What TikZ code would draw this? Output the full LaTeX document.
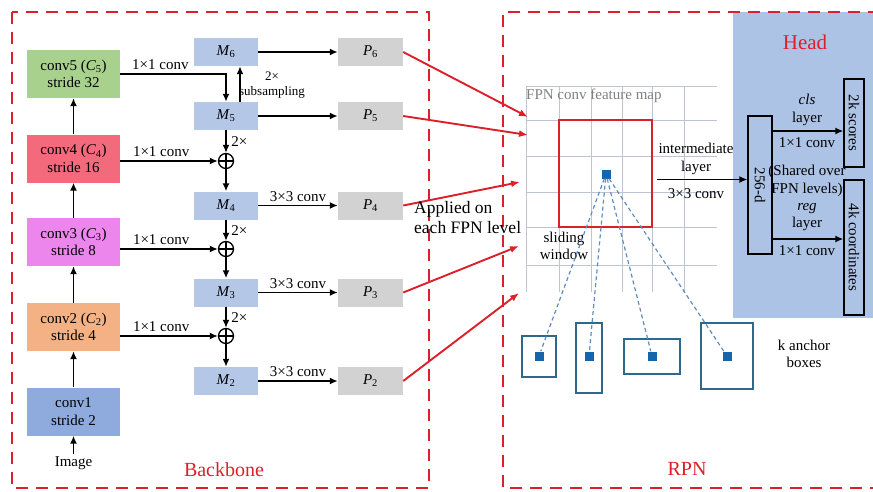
\documentclass[tikz,border=0pt]{standalone}
\usepackage{fontspec}
\setmainfont{Liberation Serif}
\usetikzlibrary{arrows.meta,positioning,calc}
\definecolor{ConvGreen}{RGB}{169,209,142}
\definecolor{ConvRed}{RGB}{243,106,124}
\definecolor{ConvViolet}{RGB}{236,134,236}
\definecolor{ConvOrange}{RGB}{244,177,131}
\definecolor{ConvBlue}{RGB}{143,170,220}
\definecolor{MapBlue}{RGB}{180,199,231}
\definecolor{PyrGray}{RGB}{210,210,210}
\definecolor{HeadBlue}{RGB}{172,195,230}
\definecolor{BorderRed}{RGB}{220,32,42}
\definecolor{GridGray}{RGB}{190,197,210}
\definecolor{AnchorTeal}{RGB}{45,105,140}
\definecolor{DotBlue}{RGB}{22,100,170}
\definecolor{RayBlue}{RGB}{95,140,190}
\newcommand{\itsub}[2]{\textit{#1}\textsubscript{#2}}
\tikzset{
  convbox/.style={minimum width=93pt,minimum height=48pt,align=center,inner sep=1pt},
  mapbox/.style={fill=MapBlue,minimum width=64pt,minimum height=28pt,inner sep=0pt},
  pbox/.style={fill=PyrGray,minimum width=65pt,minimum height=28pt,inner sep=0pt},
  sumnode/.style={circle,draw,line width=1.3pt,minimum size=15pt,inner sep=0pt,
    path picture={\draw[line width=1.3pt]
      (path picture bounding box.north) -- (path picture bounding box.south)
      (path picture bounding box.west) -- (path picture bounding box.east);}},
  arrow/.style={-{Latex[length=8pt,width=7pt]},line width=1.9pt},
  redarrow/.style={-{Latex[length=9pt,width=7pt]},line width=1.9pt,BorderRed},
  region/.style={draw=BorderRed,line width=2.4pt,dash pattern=on 12pt off 8pt},
  gridline/.style={GridGray,line width=1pt},
  anchorbox/.style={draw=AnchorTeal,line width=1.2pt,inner sep=0pt},
  dot/.style={fill=DotBlue,minimum size=9pt,inner sep=0pt},
  ray/.style={RayBlue,line width=1.2pt,dash pattern=on 4pt off 3pt},
  outbox/.style={draw,line width=1.2pt,inner sep=0pt},
  heading/.style={BorderRed,font=\fontsize{20}{22}\selectfont}
}

\begin{document}
\begin{tikzpicture}[x=1pt,y=-1pt,font=\fontsize{15}{17.5}\selectfont]
  \useasboundingbox (0,0) rectangle (873,491);
  \clip (0,0) rectangle (873,491);

  % head background
  \node[fill=HeadBlue,minimum width=140pt,minimum height=306pt,inner sep=0pt,
        anchor=north west] (headbg) at (733,12) {};

  % regions
  \draw[region] (12,12) rectangle (429,488);
  \draw[region] (880,12) -- (503,12) -- (503,488) -- (880,488);
  \node[heading] (bbtitle) at (224,470) {Backbone};
  \node[heading] (rpntitle) at (687,469) {RPN};
  \node[heading,font=\fontsize{21}{23}\selectfont] (headtitle) at (805,42) {Head};

  % backbone
  \node[convbox,fill=ConvGreen]  (c5) at (73.5,74)    {conv5 (\itsub{C}{5})\\stride 32};
  \node[convbox,fill=ConvRed]    (c4) at (73.5,158.5) {conv4 (\itsub{C}{4})\\stride 16};
  \node[convbox,fill=ConvViolet] (c3) at (73.5,242)   {conv3 (\itsub{C}{3})\\stride 8};
  \node[convbox,fill=ConvOrange] (c2) at (73.5,327)   {conv2 (\itsub{C}{2})\\stride 4};
  \node[convbox,fill=ConvBlue]   (c1) at (73.5,411.5) {conv1\\stride 2};
  \node[inner sep=2pt] (img) at (73.5,463) {Image};

  \draw[arrow] (img) -- (c1);
  \draw[arrow] (c1) -- (c2);
  \draw[arrow] (c2) -- (c3);
  \draw[arrow] (c3) -- (c4);
  \draw[arrow] (c4) -- (c5);

  % top-down pathway
  \node[mapbox] (m6) at (226,52)    {\itsub{M}{6}};
  \node[mapbox] (m5) at (226,116)   {\itsub{M}{5}};
  \node[sumnode] (s1) at (226,161)  {};
  \node[mapbox] (m4) at (226,205.5) {\itsub{M}{4}};
  \node[sumnode] (s2) at (226,249)  {};
  \node[mapbox] (m3) at (226,292.5) {\itsub{M}{3}};
  \node[sumnode] (s3) at (226,336)  {};
  \node[mapbox] (m2) at (226,381)   {\itsub{M}{2}};

  \node[pbox] (p6) at (370.5,52)    {\itsub{P}{6}};
  \node[pbox] (p5) at (370.5,116)   {\itsub{P}{5}};
  \node[pbox] (p4) at (370.5,205.5) {\itsub{P}{4}};
  \node[pbox] (p3) at (370.5,292.5) {\itsub{P}{3}};
  \node[pbox] (p2) at (370.5,381)   {\itsub{P}{2}};

  \draw[arrow] (c5.east) -- (c5.east -| m5.north) node[pos=0.38,above] {1×1 conv} -- (m5.north);
  \draw[arrow] ([xshift=14pt]m5.north) -- ([xshift=14pt]m6.south);
  \node[font=\fontsize{13}{15}\selectfont,align=center] (subs) at (272,85) {2×\\subsampling};
  \draw[arrow] (m5) -- (s1) node[midway,right=1pt] {2×};
  \draw[arrow] (c4.east |- s1) -- (s1) node[pos=0.42,above] {1×1 conv};
  \draw[arrow] (s1) -- (m4);
  \draw[arrow] (m4) -- (s2) node[midway,right=1pt] {2×};
  \draw[arrow] (c3.east |- s2) -- (s2) node[pos=0.42,above] {1×1 conv};
  \draw[arrow] (s2) -- (m3);
  \draw[arrow] (m3) -- (s3) node[midway,right=1pt] {2×};
  \draw[arrow] (c2.east |- s3) -- (s3) node[pos=0.42,above] {1×1 conv};
  \draw[arrow] (s3) -- (m2);

  \draw[arrow] (m6) -- (p6);
  \draw[arrow] (m5) -- (p5);
  \draw[arrow] (m4) -- (p4) node[midway,above] {3×3 conv};
  \draw[arrow] (m3) -- (p3) node[midway,above] {3×3 conv};
  \draw[arrow] (m2) -- (p2) node[midway,above] {3×3 conv};

  % feature map grid
  \foreach \gy in {86,120,156,192,227,265}
    \draw[gridline] (526,\gy) -- (717,\gy);
  \foreach \gx in {526,559,591,622,652,684}
    \draw[gridline] (\gx,86) -- (\gx,292);
  \node[gray,anchor=west,inner sep=0pt] (fmlabel) at (526,96) {FPN conv feature map};

  % levels into RPN
  \coordinate (f6) at (528,117);
  \coordinate (f5) at (528,135);
  \coordinate (f4) at (520,182);
  \coordinate (f3) at (519,246);
  \coordinate (f2) at (519,293);
  \draw[redarrow] (p6.east) -- (f6);
  \draw[redarrow] (p5.east) -- (f5);
  \draw[redarrow] (p4.east) -- (f4);
  \draw[redarrow] (p3.east) -- (f3);
  \draw[redarrow] (p2.east) -- (f2);
  \node[font=\fontsize{17.5}{20}\selectfont,align=left,anchor=west,inner sep=0pt]
    (applied) at (414,218) {Applied on\\each FPN level};

  % sliding window and anchors
  \node[draw=BorderRed,line width=2.4pt,minimum width=93pt,minimum height=107pt,
        inner sep=0pt] (win) at (605.5,173.5) {};
  \node[align=center] (slide) at (564,246) {sliding\\window};

  \node[anchorbox,minimum width=34pt,minimum height=41pt] (a1) at (539,356.5) {};
  \node[anchorbox,minimum width=26pt,minimum height=70pt] (a2) at (589,358) {};
  \node[anchorbox,minimum width=56pt,minimum height=35pt] (a3) at (652,356.5) {};
  \node[anchorbox,minimum width=52pt,minimum height=66pt] (a4) at (727,356) {};
  \node[dot] (ctr) at (606,174) {};
  \node[dot] (d1) at (539,356) {};
  \node[dot] (d2) at (589,356) {};
  \node[dot] (d3) at (652,356) {};
  \node[dot] (d4) at (727,356) {};
  \foreach \d in {d1,d2,d3,d4}
    \draw[ray] (ctr) -- (\d);
  \node[align=center] (anchors) at (804,354) {k anchor\\boxes};

  % head
  \coordinate (istart) at ([shift={(4pt,-6pt)}]win.east);
  \node[outbox,minimum width=24pt,minimum height=138pt] (dvec) at (760,185)
    {\rotatebox{-90}{256-d}};
  \draw[arrow] (istart) -- (istart -| dvec.west);
  \node[align=center] (inter) at (696,159) {intermediate\\layer};
  \node (iconv) at (696,194) {3×3 conv};

  \node[outbox,minimum width=20pt,minimum height=88pt] (scores) at (854,123)
    {\rotatebox{-90}{2k scores}};
  \node[outbox,minimum width=20pt,minimum height=135pt] (coords) at (854,247.5)
    {\rotatebox{-90}{4k coordinates}};
  \draw[arrow] ([yshift=54pt]dvec.east) -- ([yshift=54pt]dvec.east -| scores.west);
  \draw[arrow] ([yshift=-54pt]dvec.east) -- ([yshift=-54pt]dvec.east -| coords.west);
  \node[align=center] (clslab) at (807,110) {\textit{cls}\\layer};
  \node (clsconv) at (807,143) {1×1 conv};
  \node[align=center] (shared) at (807,181) {(Shared over\\FPN levels)};
  \node[align=center] (reglab) at (807,217) {\textit{reg}\\layer};
  \node (regconv) at (807,251) {1×1 conv};
\end{tikzpicture}
\end{document}
